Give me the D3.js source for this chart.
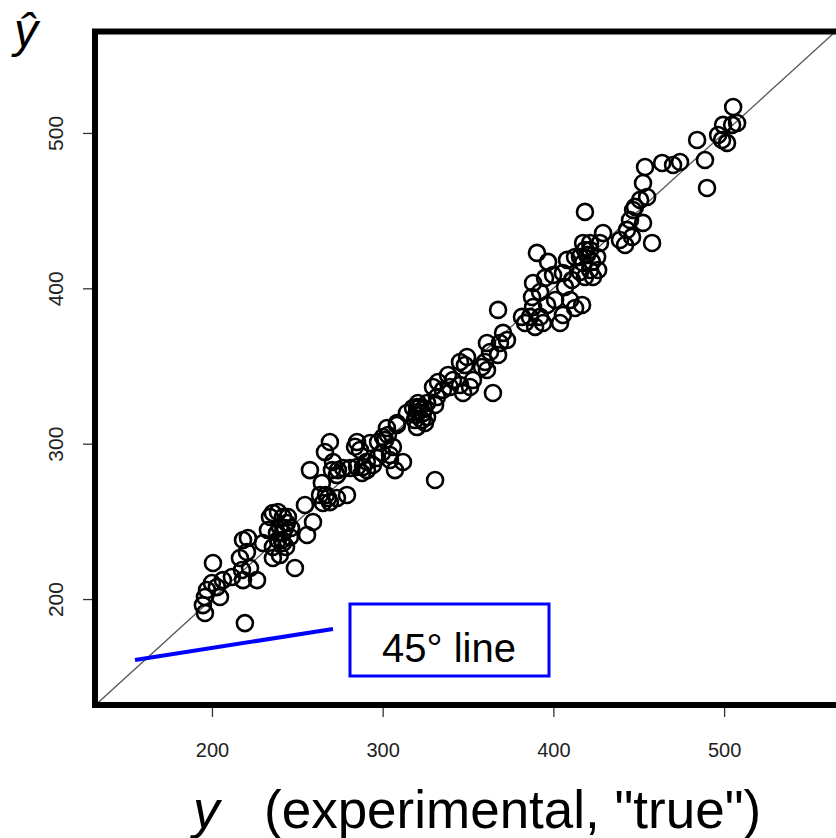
<!DOCTYPE html>
<html>
<head>
<meta charset="utf-8">
<script src="https://cdn.jsdelivr.net/npm/d3@7"></script>
<style>
  html, body { margin: 0; padding: 0; background: #fff; }
  svg { display: block; }
</style>
</head>
<body>
<svg id="chart" width="836" height="838"></svg>
<script>
// experimental ("true") values
const yTrue = [
  200.6,195.9,194.7,195.9,197.1,200.0,204.7,202.9,206.4,211.7,
  219.3,216.4,218.2,221.1,220.5,218.2,226.4,222.3,217.6,229.9,
  232.8,235.7,238.7,235.7,239.8,235.7,241.6,239.8,243.9,245.7,
  238.1,241.6,244.5,248.6,254.5,259.2,255.7,263.3,265.0,268.0,
  264.4,241.0,242.8,238.7,246.3,243.4,241.6,234.0,257.4,269.1,
  266.2,285.0,286.7,270.9,273.8,273.2,270.3,280.9,285.0,288.5,
  290.8,287.9,294.3,296.7,299.6,301.4,303.1,308.4,306.0,304.3,
  307.2,297.3,292.6,273.2,279.1,269.1,266.8,311.9,330.7,308.4,
  300.2,320.1,367.6,364.6,370.5,368.7,372.8,361.1,362.9,367.6,
  360.0,358.2,361.1,349.4,345.3,348.2,352.9,351.2,347.1,345.3,
  341.2,338.3,339.4,335.3,332.4,329.5,331.8,330.7,326.0,320.7,
  317.8,320.7,323.6,323.0,326.0,318.9,314.2,302.5,321.9,324.2,
  319.5,418.5,446.7,450.8,454.9,452.5,444.9,443.1,446.1,439.0,
  442.0,457.8,429.1,427.3,421.5,417.4,421.5,425.6,415.6,412.7,
  417.4,421.5,423.2,426.2,418.5,415.6,408.0,405.6,410.9,406.8,
  390.4,396.9,399.8,395.1,388.1,392.2,387.5,388.1,396.3,401.0,
  409.8,412.7,416.8,405.6,403.9,392.2,386.3,383.4,381.6,389.3,
  393.9,419.7,418.5,422.6,447.8,505.3,499.4,504.7,507.6,496.5,
  498.8,501.7,484.2,488.8,490.0,474.2,470.1,463.7,453.7,452.5,
  304.3,324.8,320.1,276.8,290.7,283.8
];
// predicted values (y-hat)
const yHat = [
  223.2,191.0,196.1,201.3,205.8,210.3,201.3,207.7,212.2,214.2,
  184.5,226.4,238.0,239.3,230.3,212.2,212.2,220.0,218.7,236.1,
  244.4,255.4,256.0,226.4,228.3,233.5,242.5,246.4,248.9,239.9,
  242.5,236.1,252.8,220.0,260.5,249.6,241.2,267.0,261.8,265.0,
  274.7,238.0,245.7,238.0,245.7,233.5,252.8,252.8,283.0,301.1,
  294.6,301.1,295.9,288.2,283.0,279.8,283.0,284.3,285.0,285.0,
  283.0,281.1,286.3,290.8,294.0,302.4,305.6,312.0,297.9,292.7,
  283.0,301.1,300.4,265.0,267.0,262.4,267.0,288.2,276.6,313.3,
  304.3,323.6,386.1,332.6,371.3,364.8,366.7,364.8,359.0,357.1,
  352.6,349.4,347.4,355.8,352.6,350.6,341.0,336.5,332.6,337.8,
  341.0,344.2,336.5,334.6,339.7,336.5,330.0,324.9,326.2,326.2,
  323.0,320.4,319.7,315.2,317.2,315.2,319.7,310.1,323.6,322.3,
  318.5,449.2,450.4,456.9,458.8,442.1,444.0,437.6,433.1,431.1,
  427.9,429.2,435.6,429.2,429.2,429.2,424.7,420.2,420.2,420.2,
  416.3,411.8,407.3,411.8,407.3,410.5,418.3,409.9,405.4,400.9,
  422.8,417.0,408.6,406.7,403.4,397.6,394.4,388.0,389.3,392.5,
  392.5,387.3,389.3,382.8,377.7,381.6,381.6,377.7,381.6,375.2,
  377.7,421.5,424.7,417.0,452.4,516.7,505.2,505.2,506.4,498.7,
  495.5,493.6,495.5,482.6,464.6,481.3,479.4,480.7,478.1,467.8,
  289.5,313.3,310.7,284.3,288.4,298.0
];
const xTicks = [200, 300, 400, 500];
const yTicks = [200, 300, 400, 500];
const xDomain = [131.5, 567.3];
const yDomain = [131.8, 565.3];
const annotationText = "45° line";

const svg = d3.select("#chart");
const L = 95, R = 839, T = 31.5, B = 705;

const x = d3.scaleLinear().domain(xDomain).range([L, R]);
const y = d3.scaleLinear().domain(yDomain).range([B, T]);

svg.append("defs").append("clipPath").attr("id", "clip")
  .append("rect").attr("x", L).attr("y", T).attr("width", R - L).attr("height", B - T);

// 45° line y = x
const lo = Math.max(xDomain[0], yDomain[0]) - 1, hi = Math.max(xDomain[1], yDomain[1]);
svg.append("line")
  .attr("clip-path", "url(#clip)")
  .attr("x1", x(lo)).attr("y1", y(lo))
  .attr("x2", x(hi)).attr("y2", y(hi))
  .attr("stroke", "#555").attr("stroke-width", 1.3);

// points
svg.append("g").attr("clip-path", "url(#clip)")
  .selectAll("circle")
  .data(yTrue.map((v, i) => [v, yHat[i]]))
  .join("circle")
  .attr("cx", d => x(d[0]))
  .attr("cy", d => y(d[1]))
  .attr("r", 8)
  .attr("fill", "none")
  .attr("stroke", "#000")
  .attr("stroke-width", 2.6);

// axes
const xAxis = d3.axisBottom(x).tickValues(xTicks).tickSize(12).tickPadding(26).tickFormat(d3.format("d"));
const gx = svg.append("g").attr("transform", `translate(0,${B})`).call(xAxis);
gx.select(".domain").remove();
gx.selectAll(".tick line").attr("stroke", "#333").attr("stroke-width", 1.3);
gx.selectAll(".tick text").attr("font-family", "Liberation Sans, Arial, sans-serif")
  .attr("font-size", 20).attr("fill", "#222");

const yAxis = d3.axisLeft(y).tickValues(yTicks).tickSize(12).tickFormat(d3.format("d"));
const gy = svg.append("g").attr("transform", `translate(${L},0)`).call(yAxis);
gy.select(".domain").remove();
gy.selectAll(".tick line").attr("stroke", "#333").attr("stroke-width", 1.3);
gy.selectAll(".tick text")
  .attr("font-family", "Liberation Sans, Arial, sans-serif")
  .attr("font-size", 21).attr("fill", "#222")
  .attr("x", null).attr("dy", null)
  .attr("text-anchor", "middle")
  .attr("transform", "translate(-32,0) rotate(-90)");

// frame
svg.append("rect")
  .attr("x", L).attr("y", T).attr("width", R - L).attr("height", B - T)
  .attr("fill", "none").attr("stroke", "#000").attr("stroke-width", 6);

// annotation
svg.append("line")
  .attr("x1", 135).attr("y1", 660).attr("x2", 333).attr("y2", 629)
  .attr("stroke", "#0000ff").attr("stroke-width", 4);
svg.append("rect")
  .attr("x", 350).attr("y", 604).attr("width", 199).attr("height", 72)
  .attr("fill", "#fff").attr("stroke", "#0000ff").attr("stroke-width", 3);
svg.append("text")
  .attr("x", 449).attr("y", 662).attr("text-anchor", "middle")
  .attr("font-family", "Liberation Sans, Arial, sans-serif")
  .attr("font-size", 40).attr("fill", "#000")
  .text(annotationText);

// axis titles
svg.append("text")
  .attr("x", 14).attr("y", 47)
  .attr("font-family", "Liberation Sans, Arial, sans-serif")
  .attr("font-style", "italic").attr("font-size", 48).attr("fill", "#000")
  .text("ŷ");

const xt = svg.append("text")
  .attr("y", 828)
  .attr("font-family", "Liberation Sans, Arial, sans-serif")
  .attr("font-size", 53).attr("fill", "#000");
xt.append("tspan").attr("x", 193).attr("font-style", "italic").text("y");
xt.append("tspan").attr("x", 264).text("(experimental, \"true\")");
</script>
</body>
</html>
